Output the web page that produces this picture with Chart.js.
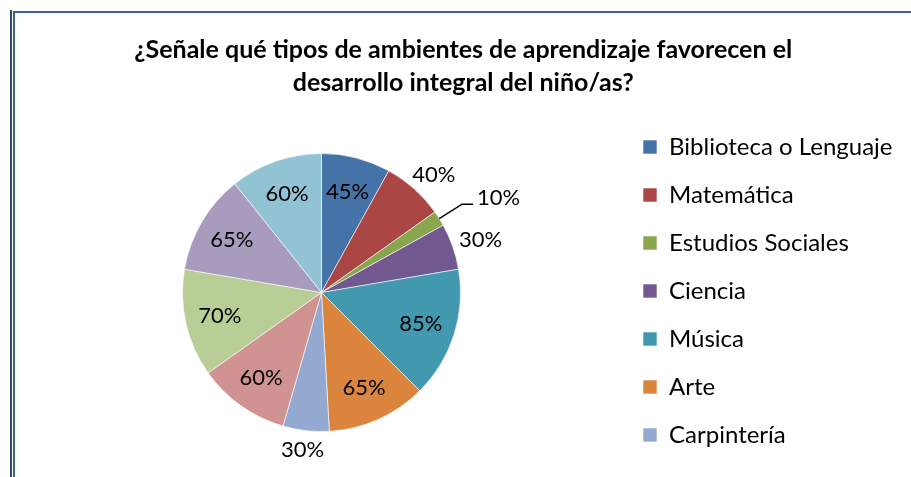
<!DOCTYPE html>
<html>
<head>
<meta charset="utf-8">
<script src="https://cdn.jsdelivr.net/npm/chart.js@4/dist/chart.umd.min.js"></script>
<style>
    body { margin: 0; background: #fff; }
    #wrap { position: relative; width: 911px; height: 477px; }
    #chart { position: absolute; left: 0; top: 0; }
    .frame-outer { position: absolute; left: 10px; top: 10px; width: 2px; height: 467px; background: #2f4c72; }
    .frame-inner { position: absolute; left: 13px; top: 11px; right: 0; bottom: -2px; border-left: 2px solid #3d6190; border-top: 2px solid #3d6190; }
</style>
</head>
<body>
<div id="wrap">
    <canvas id="chart" width="911" height="477"></canvas>
    <div class="frame-outer"></div>
    <div class="frame-inner"></div>
</div>
<script>
const titleLines = ['¿Señale qué tipos de ambientes de aprendizaje favorecen el', 'desarrollo integral del niño/as?'];

// only the first 7 names are visible in the original legend (it is cut off there)
const categories = ['Biblioteca o Lenguaje', 'Matemática', 'Estudios Sociales', 'Ciencia', 'Música', 'Arte', 'Carpintería',
    'Otro 8', 'Otro 9', 'Otro 10', 'Otro 11'];
const values = [45, 40, 10, 30, 85, 65, 30, 60, 70, 65, 60];
const colors = ['#4572A7', '#AA4643', '#89A54E', '#71588F', '#4198AF', '#DB843D', '#93A9CF',
    '#D19392', '#B9CD96', '#A99BBD', '#91C3D5'];

const legendShown = 7;
const legendFont = 24;
const legendPad = 24;

// width the legend column needs, so the pie can stay at the same place
const m = document.querySelector('#chart').getContext('2d');
m.font = legendFont + 'px Lato';
const longest = Math.max(...categories.slice(0, legendShown).map(t => m.measureText(t).width));
const legendLeft = 619;
const legendWidth = legendPad + 14 + legendFont / 2 + longest + 10;
const padRight = Math.max(0, 911 - legendLeft - legendWidth);

// percent labels, inside the big slices and outside the small ones
const sliceLabels = {
    id: 'sliceLabels',
    afterDatasetsDraw(chart) {
        const ctx = chart.ctx;
        const meta = chart.getDatasetMeta(0);
        ctx.save();
        ctx.font = '22px Lato';
        ctx.fillStyle = '#000';
        ctx.textBaseline = 'middle';
        meta.data.forEach((arc, i) => {
            const p = arc.getProps(['x', 'y', 'startAngle', 'endAngle', 'outerRadius']);
            const mid = (p.startAngle + p.endAngle) / 2;
            const span = (p.endAngle - p.startAngle) * 180 / Math.PI;
            const dx = Math.cos(mid), dy = Math.sin(mid);
            const text = values[i] + '%';
            const w = ctx.measureText(text).width;
            if (span < 10) {
                // leader line for the thin slice
                const ex = p.x + dx * p.outerRadius, ey = p.y + dy * p.outerRadius;
                const kx = p.x + dx * (p.outerRadius + 27), ky = p.y + dy * (p.outerRadius + 27);
                ctx.strokeStyle = '#000';
                ctx.lineWidth = 1.5;
                ctx.beginPath();
                ctx.moveTo(ex, ey);
                ctx.lineTo(kx, ky);
                ctx.lineTo(kx + 11, ky);
                ctx.stroke();
                ctx.textAlign = 'left';
                ctx.fillText(text, kx + 15, ky - 6);
            } else if (span < 28) {
                const r = p.outerRadius + 8;
                ctx.textAlign = 'center';
                ctx.fillText(text, p.x + dx * r + dx * w / 2, p.y + dy * r + dy * 11);
            } else {
                const r = p.outerRadius * 0.75;
                ctx.textAlign = 'center';
                ctx.fillText(text, p.x + dx * r, p.y + dy * r);
            }
        });
        ctx.restore();
    }
};

Chart.defaults.font.family = 'Lato';
Chart.defaults.color = '#000';

const chart = document.querySelector('#chart').getContext('2d');

new Chart(chart, {
    type: 'pie',
    data: {
        labels: categories,
        datasets: [
            {
                data: values,
                backgroundColor: colors,
                borderColor: '#ffffff',
                borderWidth: 0.6,
                radius: 139
            }
        ]
    },
    options: {
        responsive: false,
        animation: false,
        layout: {
            padding: { left: 24, right: padRight, top: 0, bottom: 3 }
        },
        plugins: {
            title: {
                display: true,
                text: titleLines,
                color: '#000',
                font: { size: 25, weight: 'bold', lineHeight: 1.32 },
                padding: { top: 33.5, bottom: 11.5 }
            },
            legend: {
                position: 'right',
                align: 'start',
                fullSize: false,
                labels: {
                    boxWidth: 14,
                    boxHeight: 14,
                    padding: legendPad,
                    color: '#000',
                    font: { size: legendFont },
                    filter: (item) => item.index < legendShown
                }
            },
            tooltip: { enabled: false }
        }
    },
    plugins: [sliceLabels]
})
</script>
</body>
</html>
